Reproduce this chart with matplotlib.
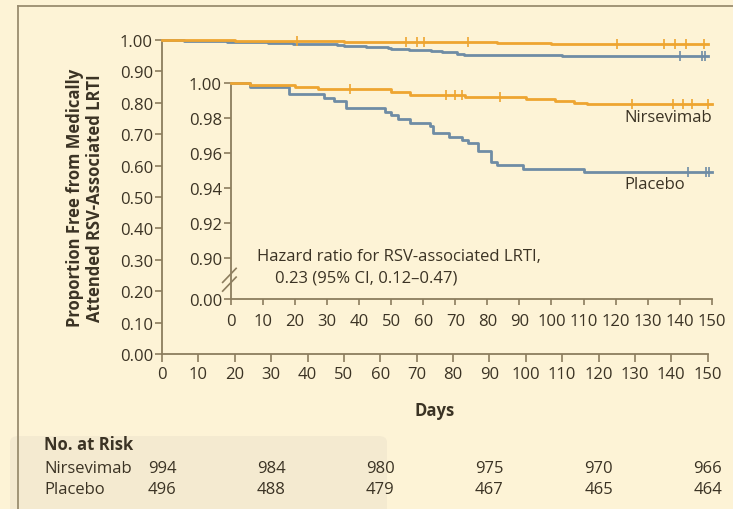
import numpy as np
import matplotlib.pyplot as plt
from matplotlib.patches import FancyBboxPatch

plt.rcParams['font.family'] = ['Open Sans', 'DejaVu Sans']

W, H = 733, 510
bg = '#fdf3d6'
ink = '#3b3324'
spine_c = '#8c7d5e'
orange = '#eea531'
blue = '#6f8ca5'
FS = 12

# Kaplan-Meier steps (day, proportion free)
nir_days = [0, 6, 20, 27, 50, 56, 73, 92, 101, 107, 111, 150]
nir_vals = [1.0, 0.9986, 0.9977, 0.9966, 0.9947, 0.9933, 0.9922, 0.9909, 0.9895, 0.9886, 0.9878, 0.9878]
nir_cens = [37, 67, 70, 72, 84, 125, 138, 141, 144, 149]

pla_days = [0, 6, 18, 29, 32, 36, 48, 50, 52, 56, 62, 63, 68, 72, 74, 77, 81, 83, 91, 110, 150]
pla_vals = [1.0, 0.9980, 0.9937, 0.9917, 0.9897, 0.9857, 0.9833, 0.9817, 0.9794, 0.9774,
            0.9756, 0.9717, 0.9694, 0.9676, 0.9657, 0.9613, 0.9550, 0.9531, 0.9511, 0.9489, 0.9489]
pla_cens = [142.5, 148.3, 149.2]

risk_days = [0, 30, 60, 90, 120, 150]
risk_nir = [994, 984, 980, 975, 970, 966]
risk_pla = [496, 488, 479, 467, 465, 464]

main_yticks = np.arange(0, 1.01, 0.1)
inset_yticks = [0.90, 0.92, 0.94, 0.96, 0.98, 1.00]
xticks = np.arange(0, 151, 10)


def val_at(days, vals, d):
    i = np.searchsorted(days, d, side='right') - 1
    return vals[i]


def px_axes(l, r, b, t):
    # pixel box (from top-left) to figure fraction
    return fig.add_axes([l / W, 1 - b / H, (r - l) / W, (b - t) / H])


def style(ax, tlen_y, tlen_x, pad_x):
    for s in ['top', 'right']:
        ax.spines[s].set_visible(False)
    for s in ['left', 'bottom']:
        ax.spines[s].set_color(spine_c)
        ax.spines[s].set_linewidth(1.3)
    ax.tick_params(axis='y', length=tlen_y, width=1.2, color=spine_c, pad=1.5,
                   labelsize=FS, labelcolor=ink)
    ax.tick_params(axis='x', length=tlen_x, width=1.2, color=spine_c, pad=pad_x,
                   labelsize=FS, labelcolor=ink)


def draw_curves(ax):
    ax.step(nir_days, nir_vals, where='post', color=orange, lw=2, clip_on=False, zorder=4)
    ax.step(pla_days, pla_vals, where='post', color=blue, lw=2, clip_on=False, zorder=3)
    ax.plot(nir_cens, [val_at(nir_days, nir_vals, d) for d in nir_cens], '|',
            color=orange, ms=7, mew=1.2, clip_on=False, zorder=4)
    ax.plot(pla_cens, [val_at(pla_days, pla_vals, d) for d in pla_cens], '|',
            color=blue, ms=7, mew=1.2, clip_on=False, zorder=3)


fig = plt.figure(figsize=(W / 100, H / 100), dpi=100, facecolor=bg)

# outer frame lines
fig.add_artist(plt.Line2D([18 / W, 18 / W], [0, 1 - 7 / H], color='#9a8d70', lw=1.3))
fig.add_artist(plt.Line2D([18 / W, 1], [1 - 7 / H, 1 - 7 / H], color='#9a8d70', lw=1.3))

# faint overlay box behind the risk table
fig.add_artist(FancyBboxPatch((10 / W, -0.05), 377 / W, (73 / H) + 0.05,
                              boxstyle='round,pad=0,rounding_size=0.012',
                              transform=fig.transFigure, fc='#f4ead0', ec='none', zorder=0))

# main axes
ax = px_axes(162, 707.7, 355, 41)
ax.set_facecolor('none')
style(ax, 5, 5.5, 3)
draw_curves(ax)
ax.set_xlim(0, 150)
ax.set_ylim(0, 1)
ax.set_xticks(xticks)
ax.set_yticks(main_yticks)
ax.set_yticklabels(['%.2f' % v for v in main_yticks])
ax.set_xlabel('Days', fontsize=FS, fontweight='bold', color=ink, labelpad=14)
ax.set_ylabel('Proportion Free from Medically\nAttended RSV-Associated LRTI',
              fontsize=12, fontweight='bold', color=ink, labelpad=11, linespacing=1.2)

# inset with broken y axis
yb = 0.90 - 41 / 1750
axi = px_axes(231, 711.7, 300, 84)
axi.set_facecolor('none')
style(axi, 5, 4.5, 5.5)
draw_curves(axi)
axi.set_xlim(0, 150)
axi.set_ylim(yb, 1.0)
axi.set_xticks(xticks)
axi.set_yticks([yb] + inset_yticks)
axi.set_yticklabels(['0.00'] + ['%.2f' % v for v in inset_yticks])
# break marks
for dy in (-0.005, 0.0):
    axi.plot([-2.6, 1.6], [yb + 0.0095 + dy, yb + 0.0175 + dy], color=spine_c, lw=1.2,
             clip_on=False)

axi.text(122.8, 0.9806, 'Nirsevimab', fontsize=FS, color=ink, va='center')
axi.text(122.8, 0.9423, 'Placebo', fontsize=FS, color=ink, va='center')
axi.text(8, 0.9011, 'Hazard ratio for RSV-associated LRTI,', fontsize=FS,
         color=ink, va='center')
axi.text(13.7, 0.8891, '0.23 (95% CI, 0.12\u20130.47)', fontsize=FS,
         color=ink, va='center')

# number at risk
fig.text(44 / W, 1 - 445 / H, 'No. at Risk', fontsize=FS, fontweight='bold',
         color=ink, va='center')
fig.text(44 / W, 1 - 469 / H, 'Nirsevimab', fontsize=FS, color=ink, va='center')
fig.text(44 / W, 1 - 490 / H, 'Placebo', fontsize=FS, color=ink, va='center')
for d, a, b in zip(risk_days, risk_nir, risk_pla):
    xf = (162 + d * (707.7 - 162) / 150) / W
    fig.text(xf, 1 - 469 / H, str(a), fontsize=FS, color=ink, ha='center', va='center')
    fig.text(xf, 1 - 490 / H, str(b), fontsize=FS, color=ink, ha='center', va='center')

fig.savefig('out.png', dpi=100, facecolor=bg)
